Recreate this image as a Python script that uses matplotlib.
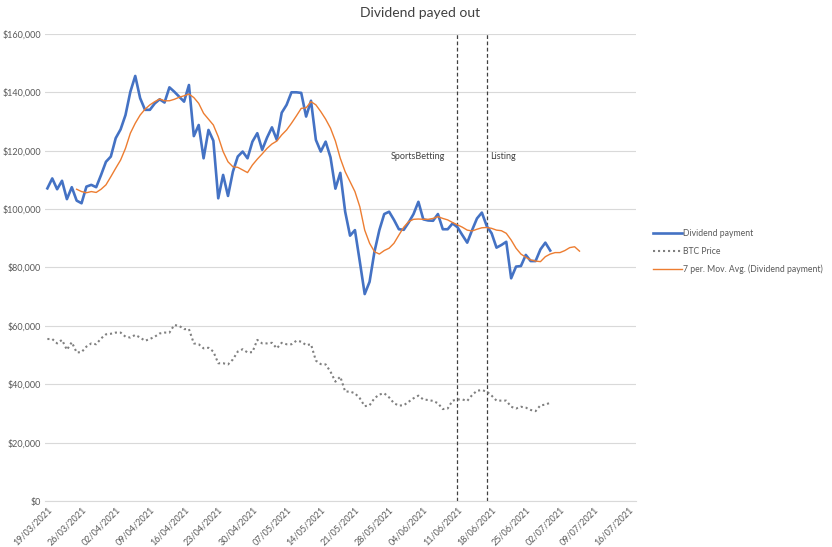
import numpy as np
import pandas as pd
import matplotlib
matplotlib.use("Agg")
import matplotlib.pyplot as plt
from matplotlib.ticker import FuncFormatter, MultipleLocator

plt.rcParams["font.family"] = ["Lato", "DejaVu Sans"]

# daily values from 19/03/2021
dividend = [
    107.1, 110.5, 106.8, 109.7, 103.4, 107.5, 102.9, 102.0, 107.7, 108.3,
    107.5, 111.7, 116.2, 118.0, 124.3, 127.3, 132.2, 140.2, 145.6, 138.0,
    134.0, 134.0, 136.2, 137.6, 136.5, 141.7, 140.2, 138.5, 136.8, 142.5,
    125.0, 128.8, 117.4, 127.1, 123.4, 103.7, 111.7, 104.5, 112.8, 118.0,
    119.7, 117.4, 123.1, 126.0, 120.3, 124.5, 128.0, 123.7, 133.0, 135.7,
    140.0, 140.0, 139.8, 131.7, 137.1, 123.7, 119.7, 123.1, 117.7, 107.0,
    112.4, 99.1, 90.9, 92.8, 82.0, 70.9, 75.1, 85.4, 92.8, 98.3,
    99.1, 96.3, 93.1, 92.9, 95.4, 98.3, 102.5, 96.5, 96.1, 96.0,
    98.3, 93.1, 93.1, 95.1, 93.8, 91.1, 88.5, 92.8, 96.8, 98.8,
    94.2, 91.7, 86.8, 87.7, 88.8, 76.3, 80.3, 80.5, 84.3, 82.2,
    82.2, 86.2, 88.5, 85.8,
]

btc_price = [
    55.5, 55.5, 54.0, 55.2, 51.8, 54.4, 50.9, 51.0, 52.9, 54.0,
    53.7, 55.7, 57.1, 57.3, 57.7, 57.7, 56.3, 56.0, 56.9, 56.0,
    54.9, 55.5, 56.3, 57.4, 57.7, 57.7, 60.3, 60.0, 58.9, 58.9,
    54.0, 53.7, 52.3, 52.5, 51.2, 47.2, 47.2, 46.8, 48.5, 51.2,
    52.0, 50.9, 51.0, 55.2, 54.0, 54.0, 54.2, 52.3, 54.2, 53.7,
    53.7, 54.9, 54.6, 53.4, 53.7, 48.1, 46.9, 46.8, 44.3, 40.9,
    42.6, 37.5, 37.5, 36.9, 35.2, 32.5, 32.8, 35.2, 36.5, 36.9,
    35.5, 33.5, 32.7, 32.8, 34.0, 35.2, 36.1, 34.8, 34.6, 34.3,
    33.5, 31.5, 31.7, 34.4, 34.8, 34.8, 34.3, 36.3, 37.8, 38.0,
    37.5, 36.1, 34.4, 34.4, 34.4, 32.3, 31.7, 32.3, 32.0, 31.2,
    30.8, 32.8, 33.0, 33.7,
]

# 7 per. moving average, as drawn (starts 25/03/2021)
moving_avg = [
    106.8, 106.0, 105.6, 106.0, 105.7, 106.8, 108.3, 111.1, 114.0, 116.8,
    120.8, 126.0, 129.4, 132.2, 134.2, 135.7, 136.8, 137.7, 137.1, 137.1,
    137.6, 138.3, 138.8, 139.4, 138.2, 136.2, 132.8, 130.8, 128.8, 124.8,
    119.7, 116.2, 114.5, 114.3, 113.4, 112.5, 115.1, 117.1, 118.9, 120.8,
    122.3, 123.3, 125.4, 127.1, 129.4, 131.9, 134.5, 134.7, 136.8, 135.7,
    133.4, 130.8, 127.7, 123.3, 117.4, 112.8, 109.4, 106.0, 100.8, 92.8,
    88.3, 85.4, 84.6, 85.8, 86.6, 88.3, 91.1, 93.8, 95.7, 96.5,
    96.6, 96.5, 96.5, 96.8, 97.4, 96.8, 96.3, 95.4, 94.6, 93.8,
    92.8, 92.5, 93.1, 93.6, 93.7, 93.4, 92.8, 92.6, 91.7, 89.4,
    86.6, 84.6, 83.5, 82.6, 82.2, 82.0, 83.7, 84.6, 85.1, 85.1,
    85.8, 86.8, 87.1, 85.6,
]

events = ["SportsBetting", "Listing"]
event_dates = ["2021-06-11", "2021-06-17"]


def main():
    dates = pd.date_range("2021-03-19", periods=len(dividend))
    ma_dates = pd.date_range("2021-03-25", periods=len(moving_avg))

    fig = plt.figure(figsize=(8.32, 5.47), dpi=100)
    ax = fig.add_axes([0.054, 0.084, 0.71, 0.854])

    ax.plot(dates, np.array(dividend) * 1000, color="#4472C4", lw=1.9,
            label="Dividend payment", zorder=3)
    ax.plot(dates, np.array(btc_price) * 1000, color="#808080", lw=1.5,
            linestyle=(0, (1, 1.4)), label="BTC Price", zorder=3)
    ax.plot(ma_dates, np.array(moving_avg) * 1000, color="#ED7D31", lw=1.0,
            label="7 per. Mov. Avg. (Dividend payment)", zorder=4)

    for d in event_dates:
        ax.axvline(pd.Timestamp(d), color="#404040", lw=0.9,
                   linestyle=(0, (3, 2)), zorder=2)
    ax.text(pd.Timestamp(event_dates[0]) - pd.Timedelta(days=2.5), 118000,
            events[0], ha="right", va="center", fontsize=6.5, color="#404040")
    ax.text(pd.Timestamp(event_dates[1]) + pd.Timedelta(days=0.6), 118000,
            events[1], ha="left", va="center", fontsize=6.5, color="#404040")

    ax.set_ylim(0, 160000)
    ax.set_xlim(pd.Timestamp("2021-03-18 12:00"), pd.Timestamp("2021-07-17 12:00"))
    ax.yaxis.set_major_locator(MultipleLocator(20000))
    ax.yaxis.set_major_formatter(FuncFormatter(lambda v, p: f"${v:,.0f}"))
    ax.grid(axis="y", color="#D9D9D9", lw=0.8)
    ax.set_axisbelow(True)

    ticks = pd.date_range("2021-03-19", "2021-07-16", freq="7D")
    ax.set_xticks(ticks)
    ax.set_xticklabels([t.strftime("%d/%m/%Y") for t in ticks], rotation=45,
                       ha="right", rotation_mode="anchor")

    for side in ["top", "right", "left"]:
        ax.spines[side].set_visible(False)
    ax.spines["bottom"].set_color("#D9D9D9")
    ax.tick_params(length=0, labelsize=6.5, colors="#595959", pad=3)

    fig.text(0.505, 0.976, "Dividend payed out", ha="center", va="center",
             fontsize=10, color="#404040")

    fig.legend(loc="upper left", bbox_to_anchor=(0.776, 0.595), frameon=False,
               fontsize=6.2, handlelength=3.3, handletextpad=0.15,
               labelspacing=1.0, labelcolor="#595959")

    plt.savefig("out.png", dpi=100)


if __name__ == "__main__":
    main()
